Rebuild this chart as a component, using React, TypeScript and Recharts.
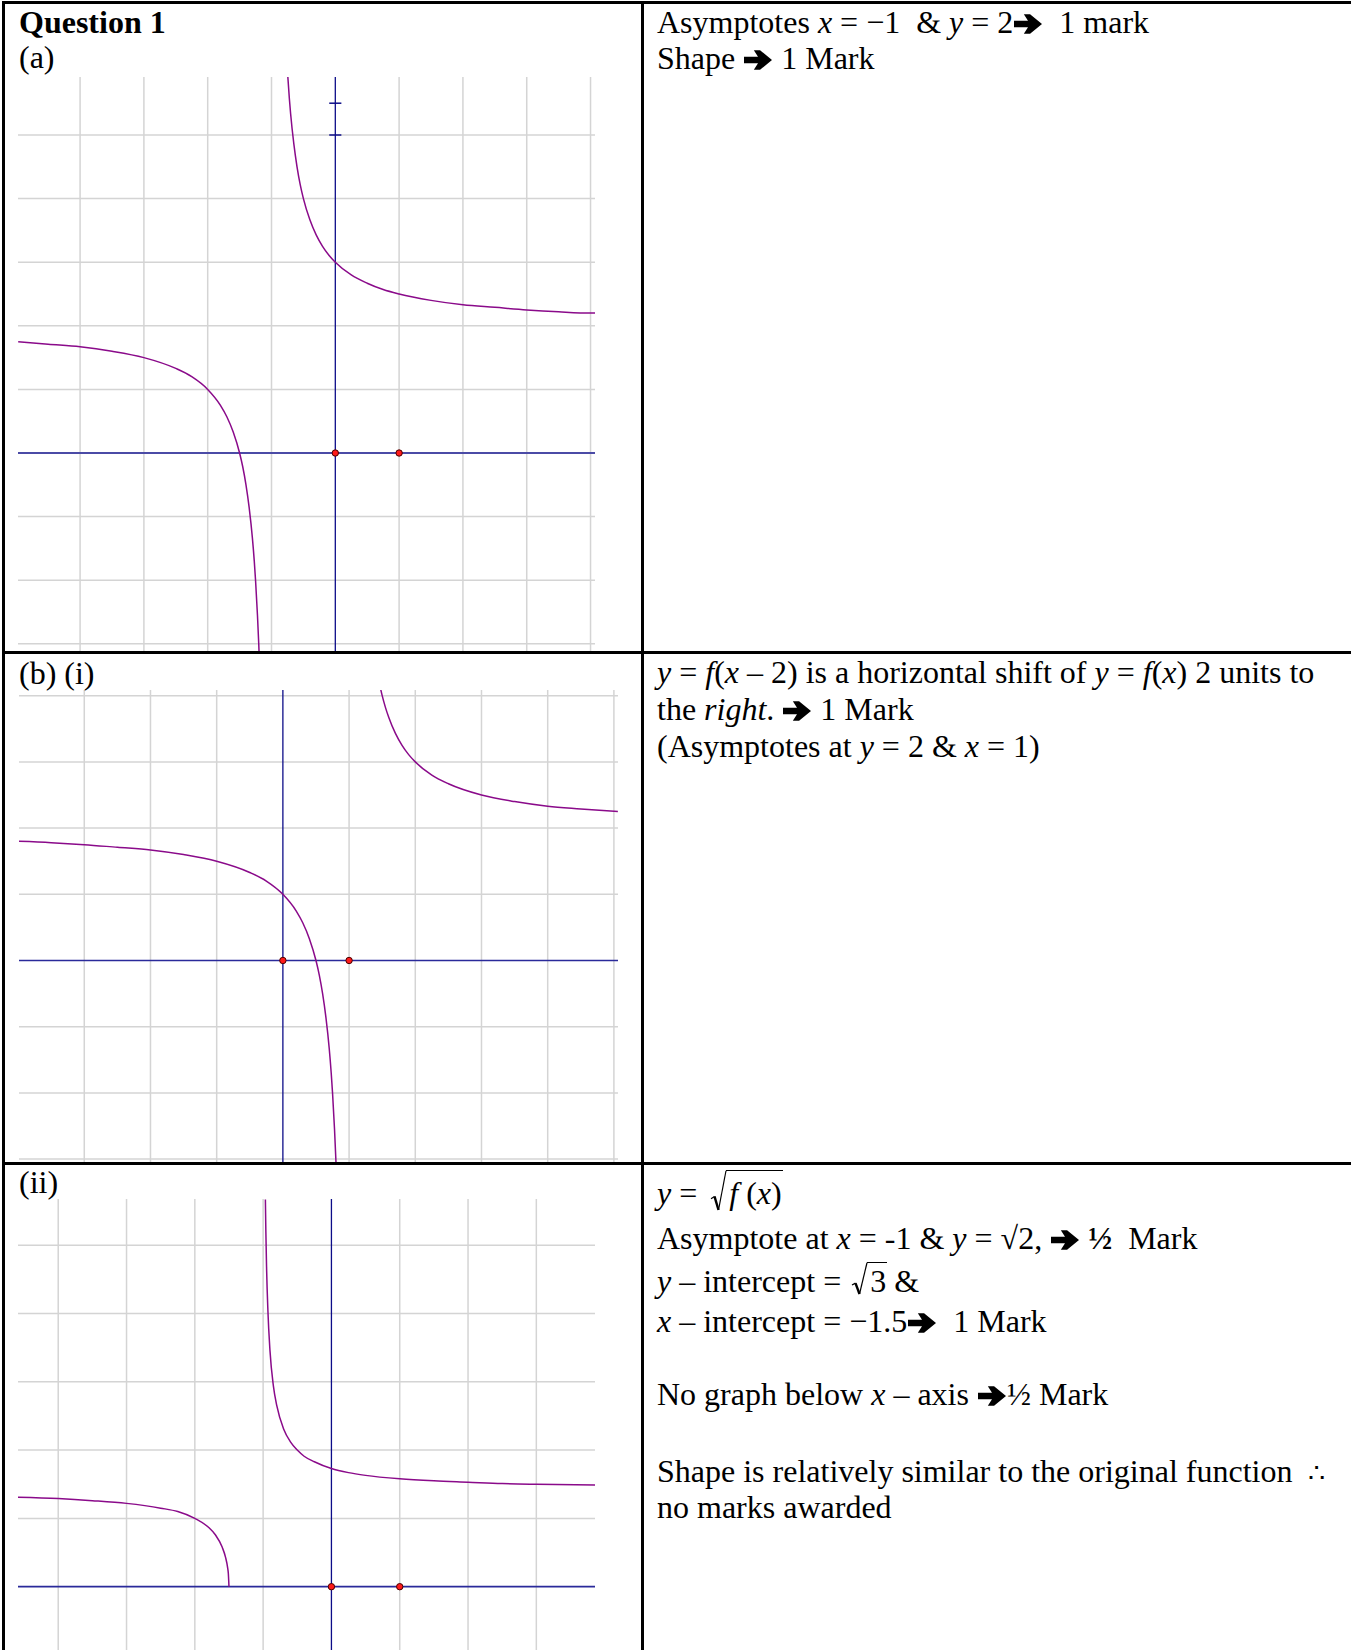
import React from 'react';
import { LineChart, Line, XAxis, YAxis, ReferenceLine, ReferenceDot } from 'recharts';

const FONT = "'Liberation Serif', 'Times New Roman', serif";
const GRID = '#d4d4d4';
const AXIS = '#0c0c88';
const CURVE = '#8a0a8a';
const LH = 36;
const BASE = 28.8; // baseline offset inside a 36px line for 32px Liberation Serif

// (a) y = f(x) = 2 + 1/(x + 1)
const aLeftX = [-4.97, -4.5, -4, -3.5, -3, -2.5, -2.25, -2, -1.8, -1.7, -1.6, -1.5, -1.45, -1.4, -1.35, -1.3, -1.27, -1.25, -1.22, -1.2, -1.19];
const aLeftY = [1.75, 1.71, 1.67, 1.6, 1.5, 1.33, 1.2, 1.0, 0.75, 0.57, 0.33, 0.0, -0.22, -0.5, -0.86, -1.33, -1.7, -2.0, -2.55, -3.0, -3.26];
const aRightX = [-0.75, -0.72, -0.7, -0.65, -0.6, -0.55, -0.5, -0.4, -0.3, -0.2, -0.1, 0, 0.25, 0.5, 0.75, 1, 1.5, 2, 2.5, 3, 3.5, 4, 4.07];
const aRightY = [6.0, 5.57, 5.33, 4.86, 4.5, 4.22, 4.0, 3.67, 3.43, 3.25, 3.11, 3.0, 2.8, 2.67, 2.57, 2.5, 2.4, 2.33, 2.29, 2.25, 2.22, 2.2, 2.2];
const aGridX = [-4, -3, -2, -1, 1, 2, 3, 4];
const aGridY = [-3, -2, -1, 1, 2, 3, 4, 5];
const aTicksY = [5, 5.5];

// (b)(i) y = f(x - 2)
const bLeftX = [-3.99, -3.5, -3, -2.5, -2, -1.5, -1, -0.5, -0.25, 0, 0.2, 0.3, 0.4, 0.5, 0.55, 0.6, 0.65, 0.7, 0.73, 0.75, 0.78, 0.8, 0.81];
const bLeftY = [1.8, 1.78, 1.75, 1.71, 1.67, 1.6, 1.5, 1.33, 1.2, 1.0, 0.75, 0.57, 0.33, 0.0, -0.22, -0.5, -0.86, -1.33, -1.7, -2.0, -2.55, -3.0, -3.26];
const bRightX = [1.47, 1.5, 1.55, 1.6, 1.7, 1.8, 1.9, 2, 2.25, 2.5, 3, 3.5, 4, 4.5, 5.06];
const bRightY = [4.13, 4.0, 3.82, 3.67, 3.43, 3.25, 3.11, 3.0, 2.8, 2.67, 2.5, 2.4, 2.33, 2.29, 2.25];
const bGridX = [-3, -2, -1, 1, 2, 3, 4, 5];
const bGridY = [-3, -2, -1, 1, 2, 3, 4];

// (b)(ii) y = sqrt(f(x))
const cLeftX = [-4.59, -4, -3.5, -3, -2.5, -2.25, -2, -1.8, -1.7, -1.6, -1.55, -1.52, -1.51, -1.5];
const cLeftY = [1.31, 1.29, 1.26, 1.22, 1.15, 1.1, 1.0, 0.87, 0.76, 0.58, 0.43, 0.28, 0.2, 0];
const cRightX = [-0.967, -0.96, -0.95, -0.93, -0.9, -0.85, -0.8, -0.7, -0.6, -0.5, -0.4, -0.25, 0, 0.25, 0.5, 1, 1.5, 2, 2.5, 3, 3.86];
const cRightY = [5.67, 5.2, 4.69, 4.04, 3.46, 2.94, 2.65, 2.31, 2.12, 2.0, 1.91, 1.83, 1.73, 1.67, 1.63, 1.58, 1.55, 1.53, 1.51, 1.5, 1.49];
const cGridX = [-4, -3, -2, -1, 1, 2, 3];
const cGridY = [-1, 1, 2, 3, 4, 5];

const markedX = [0, 1];

const zip = (xs: number[], ys: number[]) => xs.map((x, i) => ({ x, y: ys[i] }));

type GraphProps = {
  left: number;
  top: number;
  width: number;
  height: number;
  xDomain: [number, number];
  yDomain: [number, number];
  gridX: number[];
  gridY: number[];
  branches: { x: number; y: number }[][];
  ticksY?: number[];
  xAxisColor?: string;
  xAxisWidth?: number;
};

function Graph({
  left,
  top,
  width,
  height,
  xDomain,
  yDomain,
  gridX,
  gridY,
  branches,
  ticksY = [],
  xAxisColor = AXIS,
  xAxisWidth = 1.4,
}: GraphProps) {
  return (
    <div style={{ position: 'absolute', left, top }}>
      <LineChart width={width} height={height} margin={{ top: 0, right: 0, bottom: 0, left: 0 }}>
        <XAxis type="number" dataKey="x" domain={xDomain} allowDataOverflow hide />
        <YAxis type="number" dataKey="y" domain={yDomain} allowDataOverflow hide />
        {gridX.map((v) => (
          <ReferenceLine key={`gx${v}`} x={v} stroke={GRID} strokeWidth={1.5} />
        ))}
        {gridY.map((v) => (
          <ReferenceLine key={`gy${v}`} y={v} stroke={GRID} strokeWidth={1.5} />
        ))}
        <ReferenceLine y={0} stroke={xAxisColor} strokeWidth={xAxisWidth} />
        <ReferenceLine x={0} stroke={AXIS} strokeWidth={1.3} />
        {ticksY.map((v) => (
          <ReferenceLine
            key={`t${v}`}
            segment={[{ x: -0.095, y: v }, { x: 0.095, y: v }]}
            stroke={AXIS}
            strokeWidth={1.5}
          />
        ))}
        {branches.map((b, i) => (
          <Line
            key={i}
            data={b}
            dataKey="y"
            type="monotone"
            dot={false}
            activeDot={false}
            stroke={CURVE}
            strokeWidth={1.5}
            isAnimationActive={false}
          />
        ))}
        {markedX.map((v) => (
          <ReferenceDot key={`d${v}`} x={v} y={0} r={3.2} fill="#ff1a1a" stroke="#4a0000" strokeWidth={1} />
        ))}
      </LineChart>
    </div>
  );
}

function TextLine({ x, baseline, children, bold }: { x: number; baseline: number; children: React.ReactNode; bold?: boolean }) {
  return (
    <div
      style={{
        position: 'absolute',
        left: x,
        top: baseline - BASE,
        lineHeight: `${LH}px`,
        whiteSpace: 'nowrap',
        fontWeight: bold ? 'bold' : 'normal',
      }}
    >
      {children}
    </div>
  );
}

// heavy wide-headed arrow, drawn inline
function Arrow() {
  return (
    <svg
      width={28}
      height={20}
      viewBox="0 0 27 19"
      style={{ display: 'inline-block', verticalAlign: '-1px', margin: '0 1px' }}
    >
      <path d="M0 6.3 L13.5 6.3 L9.5 0 L15.5 0 L27 9.5 L15.5 19 L9.5 19 L13.5 12.7 L0 12.7 Z" fill="#000" />
    </svg>
  );
}

function Radical({ rise, depth, children }: { rise: number; depth: number; children: React.ReactNode }) {
  const w = 15;
  const top = BASE - rise;
  const h = rise + depth;
  return (
    <span style={{ position: 'relative', display: 'inline-block', paddingLeft: w + 3 }}>
      <svg
        width={w + 2}
        height={h + 2}
        style={{ position: 'absolute', left: 0, top, overflow: 'visible' }}
      >
        <path d={`M0 ${h * 0.72} L3.5 ${h * 0.66}`} fill="none" stroke="#000" strokeWidth={1.2} />
        <path d={`M3.5 ${h * 0.66} L${w * 0.5} ${h}`} fill="none" stroke="#000" strokeWidth={2.4} />
        <path d={`M${w * 0.5} ${h} L${w} 0.75`} fill="none" stroke="#000" strokeWidth={1.2} />
      </svg>
      <span
        style={{
          position: 'absolute',
          left: w - 0.5,
          right: -1,
          top,
          borderTop: '1.5px solid #000',
        }}
      />
      {children}
    </span>
  );
}

function Rule({ left, top, width, height }: { left: number; top: number; width: number; height: number }) {
  return <div style={{ position: 'absolute', left, top, width, height, background: '#000' }} />;
}

export default function App() {
  const LX = 19;
  const RX = 657;
  return (
    <div
      style={{
        position: 'absolute',
        left: 0,
        top: 0,
        width: 1351,
        height: 1650,
        overflow: 'hidden',
        background: '#fff',
        fontFamily: FONT,
        fontSize: 32,
        color: '#000',
      }}
    >
      <Graph
        left={18}
        top={77}
        width={577}
        height={574}
        xDomain={[-4.973, 4.07]}
        yDomain={[-3.113, 5.912]}
        gridX={aGridX}
        gridY={aGridY}
        branches={[zip(aLeftX, aLeftY), zip(aRightX, aRightY)]}
        ticksY={aTicksY}
        xAxisColor="#4b4ba6"
        xAxisWidth={2}
      />
      <Graph
        left={19}
        top={690}
        width={599}
        height={472}
        xDomain={[-3.986, 5.062]}
        yDomain={[-3.044, 4.086]}
        gridX={bGridX}
        gridY={bGridY}
        branches={[zip(bLeftX, bLeftY), zip(bRightX, bRightY)]}
        xAxisColor="#2a2a9a"
        xAxisWidth={1.7}
      />
      <Graph
        left={18}
        top={1199}
        width={577}
        height={461}
        xDomain={[-4.589, 3.859]}
        yDomain={[-1.073, 5.676]}
        gridX={cGridX}
        gridY={cGridY}
        branches={[zip(cLeftX, cLeftY), zip(cRightX, cRightY)]}
        xAxisColor="#2a2a9a"
        xAxisWidth={1.7}
      />

      {/* table rules */}
      <Rule left={2} top={1} width={1349} height={3} />
      <Rule left={2} top={1} width={3} height={1649} />
      <Rule left={640.5} top={1} width={3} height={1649} />
      <Rule left={2} top={651} width={1349} height={3} />
      <Rule left={2} top={1161.5} width={1349} height={3} />

      {/* left column labels */}
      <TextLine x={LX} baseline={32.6} bold>Question 1</TextLine>
      <TextLine x={LX} baseline={68}>(a)</TextLine>
      <TextLine x={LX} baseline={684}>(b) (i)</TextLine>
      <TextLine x={LX} baseline={1193}>(ii)</TextLine>

      {/* marking notes */}
      <TextLine x={RX} baseline={32.6}>
        Asymptotes <i>x</i> = −1 &nbsp;&amp; <i>y</i> = 2<Arrow /> &nbsp;1 mark
      </TextLine>
      <TextLine x={RX} baseline={68.4}>
        Shape <Arrow /> 1 Mark
      </TextLine>

      <TextLine x={RX} baseline={683}>
        <i>y</i> = <i>f</i>(<i>x</i> – 2) is a horizontal shift of <i>y</i> = <i>f</i>(<i>x</i>) 2 units to
      </TextLine>
      <TextLine x={RX} baseline={720}>
        the <i>right</i>. <Arrow /> 1 Mark
      </TextLine>
      <TextLine x={RX} baseline={756.5}>
        (Asymptotes at <i>y</i> = 2 &amp; <i>x</i> = 1)
      </TextLine>

      <TextLine x={RX} baseline={1203.3}>
        <i>y</i> = <span style={{ marginLeft: 6 }} />
        <Radical rise={33} depth={7}>
          <i>f</i> (<i>x</i>)
        </Radical>
      </TextLine>
      <TextLine x={RX} baseline={1248.3}>
        Asymptote at <i>x</i> = -1 &amp; <i>y</i> = √2, <Arrow /> <b>½</b> &nbsp;Mark
      </TextLine>
      <TextLine x={RX} baseline={1291.7}>
        <i>y</i> – intercept = <span style={{ marginLeft: 3 }} />
        <Radical rise={30} depth={2}>3</Radical>&nbsp;&amp;
      </TextLine>
      <TextLine x={RX} baseline={1331.7}>
        <i>x</i> – intercept = −1.5<Arrow /> &nbsp;1 Mark
      </TextLine>
      <TextLine x={RX} baseline={1405}>
        No graph below <i>x</i> – axis <Arrow />½ Mark
      </TextLine>
      <TextLine x={RX} baseline={1481.7}>
        Shape is relatively similar to the original function &nbsp;
        <span style={{ fontFamily: "'DejaVu Serif', serif", fontSize: 27 }}>∴</span>
      </TextLine>
      <TextLine x={RX} baseline={1518}>
        no marks awarded
      </TextLine>
    </div>
  );
}
